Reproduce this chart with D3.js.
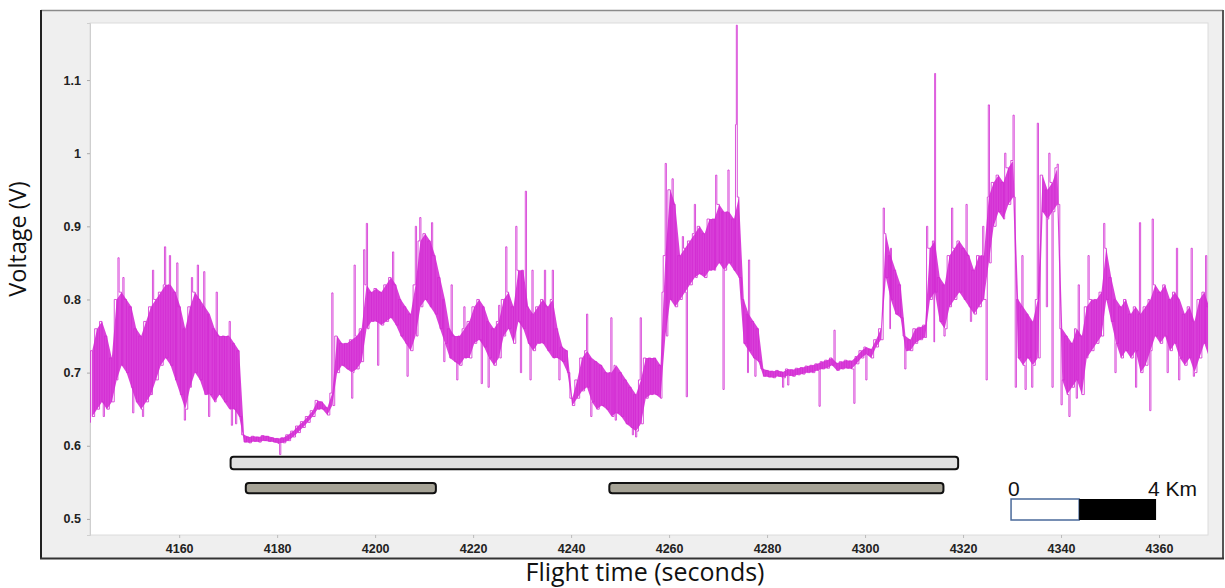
<!DOCTYPE html>
<html>
<head>
<script src="https://d3js.org/d3.v7.min.js"></script>
<style>
  body { margin: 0; background: #fff; }
  .tick text { font-family: "Liberation Sans", Arial, sans-serif; font-weight: bold; font-size: 12.5px; fill: #222; }
</style>
</head>
<body>
<div id="chart"></div>
<script>
// x domain of the recording (seconds) and y domain (volts)
var xDomain = [4141.8, 4370];
var yDomain = [0.478, 1.178];
var xTicks = [4160, 4180, 4200, 4220, 4240, 4260, 4280, 4300, 4320, 4340, 4360];
var yTicks = [0.5, 0.6, 0.7, 0.8, 0.9, 1.0, 1.1];
var yLabels = ["0.5", "0.6", "0.7", "0.8", "0.9", "1", "1.1"];

// signal, one bin per second from 4142 s: low / high of the dense band
var binStart = 4142;
var bandLo = [
  0.64,0.65,0.66,0.65,0.66,0.69,0.71,0.70,0.68,0.66,
  0.65,0.66,0.67,0.69,0.71,0.72,0.71,0.69,0.67,0.65,
  0.68,0.70,0.69,0.67,0.67,0.66,0.67,0.66,0.65,0.65,
  0.64,0.605,0.604,0.606,0.605,0.607,0.606,0.605,0.603,0.604,
  0.607,0.612,0.618,0.625,0.632,0.64,0.65,0.65,0.642,0.655,
  0.70,0.71,0.705,0.70,0.705,0.715,0.76,0.77,0.77,0.765,
  0.77,0.775,0.765,0.75,0.74,0.73,0.75,0.79,0.80,0.79,
  0.78,0.76,0.74,0.72,0.715,0.71,0.72,0.72,0.74,0.745,
  0.735,0.72,0.71,0.72,0.75,0.76,0.74,0.77,0.76,0.74,
  0.73,0.74,0.74,0.73,0.72,0.72,0.715,0.70,0.655,0.665,
  0.675,0.68,0.66,0.65,0.655,0.65,0.64,0.645,0.64,0.63,
  0.625,0.62,0.63,0.665,0.67,0.67,0.665,0.75,0.80,0.79,
  0.80,0.81,0.82,0.83,0.835,0.83,0.84,0.84,0.85,0.84,
  0.85,0.84,0.83,0.74,0.73,0.72,0.715,0.695,0.694,0.693,
  0.695,0.693,0.696,0.695,0.697,0.698,0.70,0.70,0.703,0.705,
  0.706,0.71,0.703,0.705,0.706,0.705,0.712,0.72,0.725,0.72,
  0.735,0.745,0.83,0.80,0.78,0.775,0.73,0.73,0.74,0.745,
  0.748,0.80,0.81,0.77,0.76,0.79,0.80,0.81,0.80,0.79,
  0.78,0.79,0.80,0.85,0.90,0.92,0.91,0.93,0.94,0.72,
  0.71,0.72,0.71,0.72,0.92,0.91,0.92,0.93,0.69,0.67,
  0.68,0.69,0.67,0.72,0.73,0.74,0.75,0.80,0.77,0.74,
  0.72,0.73,0.72,0.73,0.70,0.71,0.73,0.75,0.74,0.75,
  0.73,0.74,0.72,0.71,0.72,0.70,0.72,0.74,0.72
];
var bandHi = [
  0.73,0.76,0.77,0.75,0.72,0.80,0.81,0.80,0.79,0.76,
  0.75,0.77,0.79,0.80,0.81,0.82,0.82,0.81,0.79,0.76,
  0.79,0.81,0.80,0.79,0.78,0.76,0.75,0.75,0.75,0.74,
  0.73,0.615,0.612,0.613,0.612,0.614,0.613,0.611,0.61,0.611,
  0.615,0.62,0.627,0.633,0.64,0.648,0.662,0.66,0.652,0.672,
  0.75,0.74,0.74,0.745,0.75,0.76,0.82,0.81,0.815,0.81,
  0.82,0.83,0.82,0.80,0.79,0.78,0.82,0.88,0.89,0.88,
  0.86,0.83,0.80,0.76,0.75,0.75,0.76,0.77,0.79,0.80,
  0.79,0.77,0.76,0.77,0.80,0.81,0.79,0.84,0.84,0.79,
  0.78,0.79,0.80,0.79,0.80,0.76,0.735,0.73,0.665,0.69,
  0.72,0.73,0.72,0.715,0.71,0.70,0.70,0.71,0.70,0.69,
  0.68,0.67,0.69,0.72,0.72,0.72,0.71,0.86,0.95,0.93,
  0.86,0.87,0.88,0.89,0.90,0.89,0.91,0.91,0.93,0.92,
  0.92,0.91,0.94,0.80,0.78,0.77,0.76,0.705,0.703,0.702,
  0.703,0.701,0.705,0.704,0.706,0.707,0.709,0.71,0.712,0.715,
  0.717,0.72,0.713,0.715,0.717,0.716,0.722,0.73,0.735,0.732,
  0.745,0.76,0.89,0.86,0.84,0.82,0.75,0.745,0.76,0.762,
  0.765,0.87,0.88,0.83,0.82,0.86,0.87,0.88,0.87,0.86,
  0.84,0.86,0.86,0.94,0.96,0.97,0.96,0.98,0.99,0.80,
  0.79,0.78,0.77,0.80,0.97,0.95,0.96,0.98,0.76,0.75,
  0.74,0.76,0.75,0.79,0.80,0.80,0.81,0.87,0.83,0.80,
  0.79,0.80,0.78,0.79,0.78,0.79,0.80,0.82,0.81,0.82,
  0.80,0.81,0.80,0.78,0.79,0.77,0.80,0.81,0.79
];

// isolated spikes (time, volts)
var spikeT = [4141.8,4144.5,4147.5,4148.5,4150.5,4152.5,4154.6,4157.0,4158.0,4159.5,4161.1,4162.5,4163.9,4165.0,4166.0,4167.6,4170.4,4170.8,4171.5,4180.5,
  4191.3,4195.4,4195.9,4197.8,4198.4,4200.5,4203.6,4206.5,4208.4,4209.2,4211.5,4214.0,4215.5,4216.8,4218.2,4221.8,4223.1,4225.4,4226.8,4228.9,4229.8,4230.8,4231.7,4232.0,
  4234.6,4236.3,4237.5,4243.3,4244.0,4248.2,4249.0,4252.5,4253.3,4254.2,4258.6,4259.4,4260.7,4262.9,4263.5,4265.3,4269.5,4271.0,4272.0,4273.6,4273.85,4276.0,4276.4,4277.5,
  4283.3,4284.4,4290.7,4293.8,4297.9,4300.3,4303.9,4305.1,4305.3,4308.2,4312.6,4314.1,4314.3,4316.2,4317.8,4320.7,4321.5,4324.0,4324.9,
  4325.3,4328.5,4330.4,4330.8,4332.0,4332.8,4334.0,4335.3,4337.0,4337.5,4338.3,4339.4,4340.0,4341.7,4343.2,4343.5,4345.5,4348.9,4351.0,4355.4,4356.0,4358.2,4358.7,4361.8,4363.6,4364.0,4366.6,4367.0,4369.5];
var spikeV = [0.632,0.64,0.857,0.83,0.645,0.64,0.84,0.872,0.86,0.85,0.635,0.83,0.847,0.838,0.64,0.81,0.77,0.628,0.63,0.588,
  0.809,0.665,0.847,0.868,0.904,0.71,0.865,0.695,0.90,0.912,0.905,0.715,0.82,0.69,0.79,0.685,0.68,0.792,0.872,0.90,0.70,0.948,0.69,0.84,
  0.84,0.84,0.69,0.78,0.64,0.775,0.635,0.615,0.612,0.775,0.81,0.986,0.965,0.886,0.667,0.93,0.97,0.677,0.977,1.039,1.175,0.70,0.854,0.695,
  0.68,0.683,0.654,0.758,0.658,0.69,0.925,0.76,0.87,0.705,0.90,0.742,1.109,0.75,0.925,0.93,0.77,0.90,0.69,
  1.066,1.0,1.052,0.68,0.86,0.677,0.68,1.041,0.79,1.0,0.68,0.985,0.656,0.64,0.665,0.82,0.86,0.904,0.70,0.68,0.905,0.648,0.91,0.70,0.87,0.69,0.87,0.695,0.86];

// flight segments drawn under the trace (start, end, level)
var segStart = [4170.5, 4173.6, 4247.8];
var segEnd = [4319.0, 4212.4, 4316.0];
var segTop = [0.585, 0.549, 0.549];
var segBottom = [0.568, 0.535, 0.535];
var segFill = ["#e0e0e0", "#a6a396", "#a6a396"];

// distance scale
var scaleT = [4329.8, 4343.7, 4359.4];
var scaleLabels = ["0", "4 Km"];

var W = 1225, H = 588;
var svg = d3.select("#chart").append("svg").attr("width", W).attr("height", H);

// outer frame
svg.append("rect").attr("x", 41).attr("y", 10).attr("width", 1182).attr("height", 549).attr("fill", "#efefef");
svg.append("line").attr("x1", 41).attr("x2", 1223).attr("y1", 10.5).attr("y2", 10.5).attr("stroke", "#8a8a8a").attr("stroke-width", 1.5);
svg.append("line").attr("x1", 41).attr("x2", 41).attr("y1", 10).attr("y2", 559).attr("stroke", "#222").attr("stroke-width", 2);
svg.append("line").attr("x1", 1223).attr("x2", 1223).attr("y1", 10).attr("y2", 559).attr("stroke", "#555").attr("stroke-width", 2);
svg.append("line").attr("x1", 40).attr("x2", 1224).attr("y1", 558.5).attr("y2", 558.5).attr("stroke", "#333").attr("stroke-width", 2);

var plotL = 90, plotR = 1208, plotT = 23, plotB = 535;
svg.append("rect").attr("x", plotL).attr("y", plotT).attr("width", plotR - plotL).attr("height", plotB - plotT)
  .attr("fill", "#fff").attr("stroke", "#dcdcdc").attr("stroke-width", 1);

var x = d3.scaleLinear().domain(xDomain).range([plotL, plotR]);
var y = d3.scaleLinear().domain(yDomain).range([plotB, plotT]);

svg.append("clipPath").attr("id", "plot").append("rect")
  .attr("x", plotL).attr("y", plotT).attr("width", plotR - plotL).attr("height", plotB - plotT);

// axes
var yAxis = svg.append("g").attr("transform", "translate(" + plotL + ",0)")
  .call(d3.axisLeft(y).tickValues(yTicks).tickFormat(function(d, i) { return yLabels[i]; }).tickSize(3).tickPadding(6));
yAxis.select(".domain").attr("stroke", "#cfcfcf");
yAxis.selectAll(".tick line").attr("stroke", "#aaa");

var xAxis = svg.append("g").attr("transform", "translate(0," + plotB + ")")
  .call(d3.axisBottom(x).tickValues(xTicks).tickSize(3).tickPadding(6).tickFormat(d3.format("d")));
xAxis.select(".domain").remove();
xAxis.selectAll(".tick line").attr("stroke", "#bbb");

// flight segment bars
svg.selectAll(".seg").data(segStart).enter().append("rect")
  .attr("class", "seg")
  .attr("x", function(d) { return x(d); })
  .attr("width", function(d, i) { return x(segEnd[i]) - x(d); })
  .attr("y", function(d, i) { return y(segTop[i]); })
  .attr("height", function(d, i) { return y(segBottom[i]) - y(segTop[i]); })
  .attr("rx", 3)
  .attr("fill", function(d, i) { return segFill[i]; })
  .attr("stroke", "#111").attr("stroke-width", 2);

// signal
var bins = bandLo.map(function(lo, i) { return {t: binStart + i, lo: lo, hi: bandHi[i]}; });
var pts = [];
bins.forEach(function(b) {
  pts.push({t: b.t, v: b.hi});
  pts.push({t: b.t + 0.5, v: b.lo});
});
spikeT.forEach(function(t, i) { pts.push({t: t, v: spikeV[i]}); });
pts.sort(function(a, b) { return a.t - b.t; });

var g = svg.append("g").attr("clip-path", "url(#plot)");
g.append("path").datum(bins)
  .attr("d", d3.area().x(function(d) { return x(d.t + 0.25); }).y0(function(d) { return y(d.lo); }).y1(function(d) { return y(d.hi); }))
  .attr("fill", "#cc00cc").attr("opacity", 0.75);
g.append("path").datum(pts)
  .attr("d", d3.line().curve(d3.curveStep).x(function(d) { return x(d.t); }).y(function(d) { return y(d.v); }))
  .attr("fill", "none").attr("stroke", "#d22ad2").attr("stroke-width", 0.8);

// distance scale bar
svg.append("rect").attr("x", x(scaleT[0])).attr("y", 499).attr("width", x(scaleT[1]) - x(scaleT[0])).attr("height", 21)
  .attr("fill", "#fff").attr("stroke", "#4a6a9a").attr("stroke-width", 1.5);
svg.append("rect").attr("x", x(scaleT[1])).attr("y", 499).attr("width", x(scaleT[2]) - x(scaleT[1])).attr("height", 21)
  .attr("fill", "#000");
svg.append("text").attr("x", x(scaleT[0]) - 3).attr("y", 496).attr("font-family", "Liberation Sans, Arial, sans-serif")
  .attr("font-size", 21).attr("fill", "#111").text(scaleLabels[0]);
svg.append("text").attr("x", 1197).attr("y", 496).attr("text-anchor", "end").attr("font-family", "Liberation Sans, Arial, sans-serif")
  .attr("font-size", 21).attr("fill", "#111").text(scaleLabels[1]);

// axis titles
svg.append("text").attr("x", 645).attr("y", 581).attr("text-anchor", "middle")
  .attr("font-family", "Open Sans, sans-serif").attr("font-size", 25).attr("fill", "#111")
  .text("Flight time (seconds)");
svg.append("text").attr("transform", "translate(26,239) rotate(-90)").attr("text-anchor", "middle")
  .attr("font-family", "Open Sans, sans-serif").attr("font-size", 23.5).attr("fill", "#111")
  .text("Voltage (V)");
</script>
</body>
</html>
